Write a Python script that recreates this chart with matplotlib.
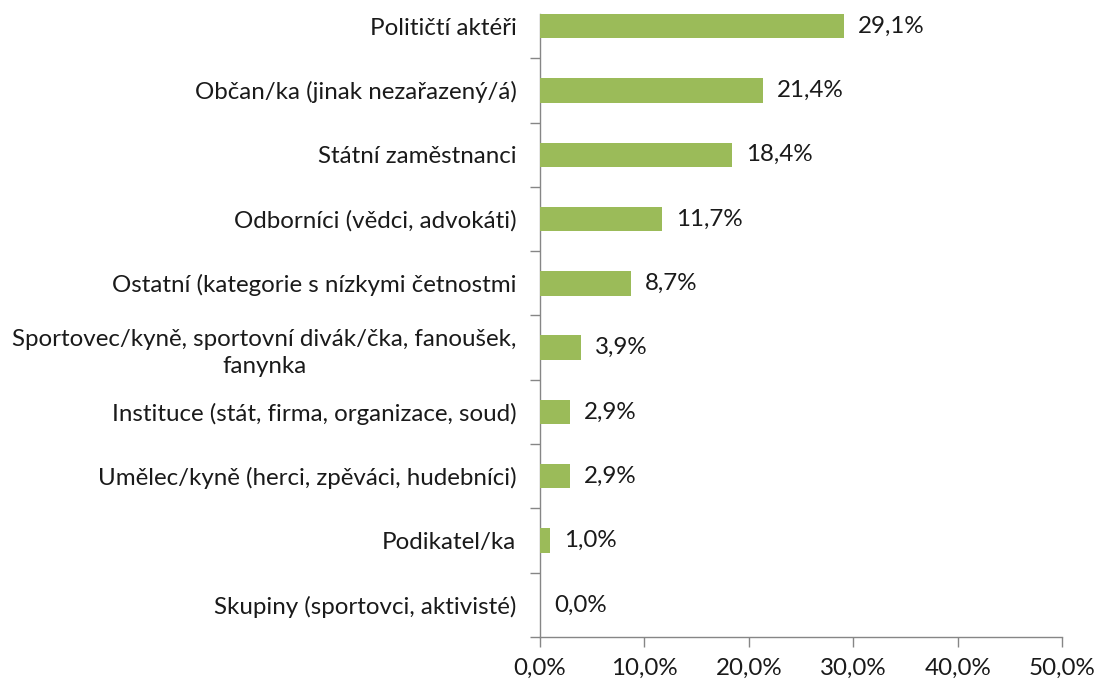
import matplotlib
matplotlib.use("Agg")
import matplotlib.pyplot as plt
from matplotlib.ticker import FixedLocator

categories = [
    "Političtí aktéři",
    "Občan/ka (jinak nezařazený/á)",
    "Státní zaměstnanci",
    "Odborníci (vědci, advokáti)",
    "Ostatní (kategorie s nízkymi četnostmi",
    "Sportovec/kyně, sportovní divák/čka, fanoušek,\nfanynka",
    "Instituce (stát, firma, organizace, soud)",
    "Umělec/kyně (herci, zpěváci, hudebníci)",
    "Podikatel/ka",
    "Skupiny (sportovci, aktivisté)",
]
values = [29.1, 21.4, 18.4, 11.7, 8.7, 3.9, 2.9, 2.9, 1.0, 0.0]
xticks = [0, 10, 20, 30, 40, 50]
xticklabels = ["0,0%", "10,0%", "20,0%", "30,0%", "40,0%", "50,0%"]

plt.rcParams['font.family'] = ['Lato', 'DejaVu Sans']
W, H = 1097, 682
fig = plt.figure(figsize=(W / 100, H / 100), dpi=100)
left_px, right_px, top_px, bot_px = 540, 1062, -6, 637
ax = fig.add_axes([left_px / W, (H - bot_px) / H, (right_px - left_px) / W, (bot_px - top_px) / H])

txt = '#1a1a1a'
axc = '#868686'
fs = 17.4
bar_h = 0.38
y = list(range(len(categories)))
ax.barh(y, values, height=bar_h, color='#9BBB59', linewidth=0, zorder=3)

for yi, v in zip(y, values):
    ax.annotate(f"{v:.1f}%".replace('.', ','), xy=(v, yi), xytext=(10, 0),
                textcoords='offset points', ha='left', va='center',
                fontsize=fs, color=txt)

ax.set_xlim(0, 50)
ax.set_ylim(len(categories) - 0.5, -0.5)

for s in ['top', 'right']:
    ax.spines[s].set_visible(False)
for s in ['left', 'bottom']:
    ax.spines[s].set_color(axc)
    ax.spines[s].set_linewidth(1.0)
ax.spines['left'].set_bounds(-bar_h / 2, len(categories) - 0.5)

ax.set_yticks(y)
ax.set_yticklabels(categories, fontsize=fs, color=txt, multialignment='center', linespacing=1.4)
ax.tick_params(axis='y', which='major', length=0, pad=17)
ax.yaxis.set_minor_locator(FixedLocator([i + 0.5 for i in range(len(categories))]))
ax.tick_params(axis='y', which='minor', length=7, color=axc, width=1.0, direction='out')

ax.set_xticks(xticks)
ax.set_xticklabels(xticklabels, fontsize=fs, color=txt)
ax.tick_params(axis='x', which='major', length=7, color=axc, width=1.0, direction='out', pad=8)

fig.savefig("out.png", dpi=100)
